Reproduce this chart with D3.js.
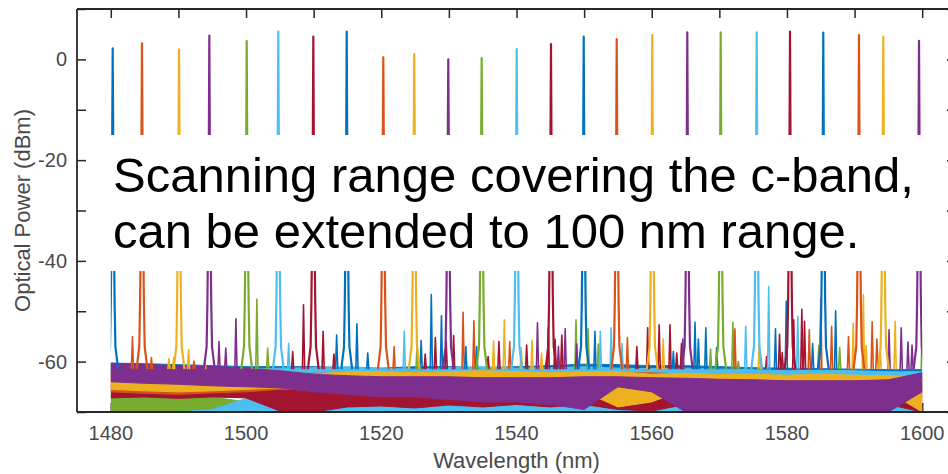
<!DOCTYPE html>
<html>
<head>
<meta charset="utf-8">
<script src="https://cdn.jsdelivr.net/npm/d3@7"></script>
<style>
  body { margin: 0; background: #fff; }
  svg { display: block; font-family: "Liberation Sans", Arial, sans-serif; }
</style>
</head>
<body>
<svg id="chart" width="948" height="474"></svg>
<script>
// MATLAB default colour order (blue, orange, yellow, purple, green, light blue, red)
const traceColors = ["#0072BD", "#D95319", "#EDB120", "#7E2F8E", "#77AC30", "#4DBEEE", "#A2142F"];

// main laser lines: centre wavelength (nm) and peak power (dBm), one per sweep
const peakWl = [1480.28, 1484.61, 1490.09, 1494.57, 1500.1, 1504.77, 1509.95, 1514.89, 1520.3, 1524.88,
                1529.91, 1534.85, 1540.03, 1545.1, 1549.94, 1554.82, 1560.08, 1565.26, 1570.2, 1575.52,
                1580.45, 1585.37, 1590.65, 1594.25, 1599.53];
const peakDbm = [2.2, 3.2, 2.0, 4.7, 3.65, 5.5, 4.5, 5.5, 0.4, 1.07,
                 0.0, 0.27, 2.06, 3.05, 4.5, 4.04, 4.84, 5.37, 5.37, 5.37,
                 5.5, 5.3, 4.84, 4.5, 3.7];

// side spikes above the noise floor: [wavelength, dBm, colour index]
const spikes = [
  [1483.2, -55, 1], [1486.0, -59.2, 1], [1488.6, -59.4, 2], [1489.3, -59.2, 2], [1491.5, -57.6, 2],
  [1492.3, -59.9, 1], [1493.9, -59.4, 2], [1496.0, -56, 3], [1497.0, -57.3, 3], [1498.5, -51.5, 3],
  [1501.6, -47.6, 4], [1503.2, -57.3, 4], [1506.3, -56.4, 5], [1506.9, -58, 6], [1508.5, -48.7, 6],
  [1511.4, -54, 6], [1513.0, -58.5, 6], [1513.4, -54.7, 0], [1516.4, -52.5, 0], [1518.0, -58.3, 0],
  [1521.9, -57, 1], [1523.4, -54, 5], [1525.3, -56.2, 4], [1525.9, -55.8, 0], [1526.5, -58.5, 6],
  [1527.4, -46.7, 0], [1528.0, -55.2, 6], [1528.9, -50.9, 0], [1529.6, -55.9, 6], [1530.7, -54.8, 6],
  [1532.1, -50.2, 1], [1532.5, -57, 0], [1533.7, -51.9, 1], [1534.1, -57, 0], [1535.8, -59, 6],
  [1536.6, -55.9, 2], [1537.4, -56, 6], [1538.2, -51.7, 2], [1539.0, -56, 1], [1540.7, -57.2, 2],
  [1541.5, -56.7, 6], [1542.3, -55.8, 2], [1543.1, -52.3, 3], [1543.7, -58.3, 2], [1544.7, -53.3, 6],
  [1545.7, -55.5, 6], [1546.2, -57, 3], [1546.7, -54.7, 6], [1547.2, -53.5, 3], [1548.8, -51.7, 4],
  [1548.9, -56.5, 3], [1550.6, -53.5, 4], [1551.6, -54, 0], [1552.1, -56.5, 4], [1552.4, -54, 5],
  [1554.0, -53.3, 5], [1555.6, -56.4, 5], [1556.4, -55.2, 1], [1557.8, -57, 6], [1559.4, -53.3, 6],
  [1561.1, -52.7, 6], [1561.7, -55.5, 2], [1562.7, -52.7, 6], [1563.2, -58, 0], [1563.7, -58.3, 6],
  [1564.4, -56.4, 6], [1564.6, -55.5, 3], [1566.4, -52.2, 0], [1566.9, -55.5, 0], [1568.0, -53.3, 0],
  [1568.7, -57.5, 4], [1569.6, -57.2, 0], [1572.0, -52.2, 4], [1572.3, -53.5, 1], [1572.8, -60, 4],
  [1573.9, -53, 5], [1575.9, -56.5, 2], [1577.0, -59, 6], [1577.3, -45.1, 5], [1578.3, -53.5, 0],
  [1578.9, -54.6, 6], [1579.3, -58.2, 6], [1579.9, -48, 0], [1581.0, -51.7, 6], [1581.6, -51, 5],
  [1582.2, -49.6, 6], [1582.6, -52, 6], [1583.3, -53.7, 1], [1583.8, -56.4, 0], [1584.7, -56.8, 4],
  [1585.0, -47.4, 1], [1586.6, -53, 1], [1587.2, -49.9, 0], [1587.8, -57.2, 4], [1589.1, -55, 1],
  [1589.8, -52.4, 2], [1591.3, -46.7, 2], [1591.7, -56.8, 2], [1592.6, -52.1, 1], [1593.3, -55.5, 1],
  [1593.8, -58, 2], [1595.1, -53.7, 3], [1596.0, -52, 2], [1596.9, -53.3, 3], [1597.9, -56.1, 3],
  [1598.5, -56.7, 3], [1600.0, -54.5, 4]
];

// noise floor bands (top / bottom envelope in dBm) sampled on this grid
const floorWl = [1480, 1485, 1490, 1495, 1500, 1505, 1510, 1515, 1520, 1525, 1530, 1535, 1540,
                 1545, 1550, 1555, 1560, 1565, 1570, 1575, 1580, 1585, 1590, 1595, 1600];
const greenTop = [-66.8, -67, -66.8, -67, -68, -68.5, -69, -69, -69, -69, -69, -69, -69,
                  -69, -69, -69, -69, -69, -69, -69, -69, -69, -69, -69, -69];
const greenBot = [-70, -70, -70, -70, -70, -70, -70, -70, -70, -70, -70, -70, -70,
                  -70, -70, -70, -70, -70, -70, -70, -70, -70, -70, -70, -70];
const lightBlueLowTop = [-70, -70, -70, -69.5, -67.3, -68.5, -68, -67.5, -67.3, -67.5, -67.8, -67.5, -68,
                         -68, -68.5, -68.5, -69, -69, -69, -69, -69, -69, -69, -69, -69];
const lightBlueLowBot = greenBot;
const redTop = [-64.2, -64.5, -64.3, -64.8, -65, -64.5, -64.5, -65.5, -66, -66, -66.5, -66.5, -66.5,
                -66.5, -66, -65.5, -65.5, -66, -66, -66, -66, -66, -66, -66, -64];
const redBot = [-67.2, -67, -67.3, -67, -67.2, -69.8, -70, -69, -68.8, -69.2, -68.6, -69, -68.5,
                -69, -68.5, -69.5, -69.8, -68.5, -68.5, -68.5, -68.5, -68.5, -68.5, -68.5, -70];
const blueTop = [-60.3, -60.4, -60.6, -60.8, -61, -61, -61, -61.2, -61.3, -61, -61, -61.2, -61,
                 -60.8, -60.5, -60.6, -60.8, -60.8, -61, -61.2, -61.3, -61.4, -61.5, -61.6, -61.6];
const blueBot = [-62, -62.2, -62.4, -62.6, -62.8, -62.8, -62.8, -63, -63, -62.8, -62.8, -63, -62.8,
                 -62.5, -62.3, -62.3, -62.5, -62.5, -62.8, -63, -63, -63.2, -63.3, -63.3, -63.3];
const lightBlueTop = [-60.8, -61, -61.2, -61.3, -61.5, -61.3, -61.2, -61, -61.3, -61.5, -61.2, -61, -61.3,
                      -61.2, -61, -61.3, -61.4, -61.3, -61.5, -61.6, -61.8, -61.7, -61.8, -62, -62];
const lightBlueBot = [-62.1, -62.3, -62.5, -62.6, -62.8, -62.6, -62.5, -62.3, -62.6, -62.8, -62.5, -62.3, -62.6,
                      -62.5, -62.3, -62.6, -62.7, -62.6, -62.8, -62.9, -63.1, -63, -63.1, -63.3, -63.3];
const orangeTop = [-62, -62.3, -62.3, -62.5, -62.5, -62.5, -62.3, -62.3, -62.2, -62.2, -62.3, -62.3, -62.5,
                   -62.3, -62.2, -62.3, -62.2, -62.5, -62.5, -62.8, -62.8, -63, -63, -63.2, -63];
const orangeBot = [-66, -66.3, -66.5, -66.2, -66, -65.5, -65.5, -65.5, -65.5, -65.5, -65.5, -65.8, -66,
                   -66, -66, -67.5, -66.5, -65.5, -65.5, -65.5, -65.5, -65.5, -65.8, -66, -67];
const yellowTop = [-62.3, -62.5, -62.6, -62.5, -62.8, -62.8, -62.5, -62, -62, -62.2, -62, -61.8, -62,
                   -62.2, -62, -62, -62.5, -62.3, -62.5, -62.5, -62.7, -62.5, -62.7, -62.8, -63];
const yellowBot = [-65.5, -65.8, -66, -65.8, -65.5, -65.2, -65, -64.5, -64.5, -64.8, -65, -65, -65.2,
                   -65.5, -66, -69, -68, -65.5, -65, -65, -65, -65, -65, -66, -70];
const purpleTop = [-60.3, -60.6, -60.8, -61, -61.3, -61.8, -62.5, -62.8, -63, -63, -63, -63.2, -63.2,
                   -63.2, -63, -63, -63.2, -63.3, -63.5, -63.6, -63.8, -63.8, -63.8, -63.6, -62.2];
const purpleBot = [-64, -64.3, -64.5, -64.8, -65, -65.2, -66, -66.5, -67, -67, -67.5, -68, -68,
                   -68.5, -69.5, -65, -66, -70, -70, -70, -70, -70, -70, -70, -66];

// bands in drawing order (later ones sit on top)
const floorBands = [
  {color: 4, top: greenTop, bot: greenBot},
  {color: 5, top: lightBlueLowTop, bot: lightBlueLowBot},
  {color: 6, top: redTop, bot: redBot},
  {color: 0, top: blueTop, bot: blueBot},
  {color: 5, top: lightBlueTop, bot: lightBlueBot},
  {color: 1, top: orangeTop, bot: orangeBot},
  {color: 2, top: yellowTop, bot: yellowBot},
  {color: 3, top: purpleTop, bot: purpleBot}
];

const xTicks = [1480, 1490, 1500, 1510, 1520, 1530, 1540, 1550, 1560, 1570, 1580, 1590, 1600];
const xLabels = [1480, 1500, 1520, 1540, 1560, 1580, 1600];
const yTicks = [-70, -60, -50, -40, -30, -20, -10, 0, 10];
const yLabels = [-60, -40, -20, 0];

const noteLines = ["Scanning range covering the c-band,", "can be extended to 100 nm range."];

// ---------------------------------------------------------------
const width = 948, height = 474;
const margin = {top: 9, left: 77, bottom: 62};
const svg = d3.select("#chart");

const x = d3.scaleLinear().domain([1475, 1605]).range([margin.left, 956]);
const y = d3.scaleLinear().domain([-70, 10]).range([height - margin.bottom, margin.top]);

const axisColor = "#262626";
const labelColor = "#4a4a4a";

// clip to the sweep range
svg.append("defs").append("clipPath").attr("id", "sweep")
  .append("rect")
  .attr("x", x(1480)).attr("y", y(10))
  .attr("width", x(1600) - x(1480)).attr("height", y(-70) - y(10));

// tick marks (inside the box, under the data)
const tickG = svg.append("g").attr("class", "ticks").attr("color", axisColor);
tickG.append("g").attr("transform", `translate(0,${y(-70)})`)
  .call(d3.axisBottom(x).tickValues(xTicks).tickSize(-9).tickFormat(""));
tickG.append("g").attr("transform", `translate(0,${y(10)})`)
  .call(d3.axisTop(x).tickValues(xTicks).tickSize(-9).tickFormat(""));
tickG.append("g").attr("transform", `translate(${x(1475)},0)`)
  .call(d3.axisLeft(y).tickValues(yTicks).tickSize(-9).tickFormat(""));
tickG.append("g").attr("transform", `translate(${x(1605)},0)`)
  .call(d3.axisRight(y).tickValues(yTicks).tickSize(-9).tickFormat(""));
tickG.selectAll(".domain").remove();
tickG.selectAll("line").attr("stroke-width", 1.5);

const plot = svg.append("g").attr("clip-path", "url(#sweep)");

// noise floor
const floorArea = d3.area()
  .x((d, i) => x(floorWl[i]))
  .y0(d => y(d[1]))
  .y1(d => y(d[0]));

floorBands.forEach(b => {
  plot.append("path")
    .attr("d", floorArea(b.top.map((t, i) => [t, b.bot[i]])))
    .attr("fill", traceColors[b.color])
    .attr("stroke", traceColors[b.color])
    .attr("stroke-width", 1);
});

// side spikes
const line = d3.line().x(d => x(d[0])).y(d => y(d[1]));
spikes.forEach(s => {
  plot.append("path")
    .attr("d", line([[s[0] - 0.16, -61.5], [s[0], s[1]], [s[0] + 0.16, -61.5]]))
    .attr("fill", "none")
    .attr("stroke", traceColors[s[2]])
    .attr("stroke-width", 1.6)
    .attr("stroke-linejoin", "round");
});

// main laser lines with their skirts
const skirt = [[-0.8, -61.5], [-0.4, -57], [-0.28, -48], [-0.18, -35], [-0.07, -15]];
peakWl.forEach((wl, i) => {
  const pts = skirt.map(p => [wl + p[0], p[1]])
    .concat([[wl, peakDbm[i]]])
    .concat(skirt.slice().reverse().map(p => [wl - p[0], p[1]]));
  plot.append("path")
    .attr("d", line(pts))
    .attr("fill", "none")
    .attr("stroke", traceColors[i % 7])
    .attr("stroke-width", 2.2)
    .attr("stroke-linejoin", "round");
});

// axes box
svg.append("g").attr("stroke", axisColor).attr("stroke-width", 1.8)
  .selectAll("line")
  .data([
    [x(1475), y(-70), x(1475), y(10)],
    [x(1475), y(10), x(1605), y(10)],
    [x(1475), y(-70), x(1605), y(-70)],
    [x(1605), y(-70), x(1605), y(10)]
  ])
  .join("line")
  .attr("x1", d => d[0]).attr("y1", d => d[1])
  .attr("x2", d => d[2]).attr("y2", d => d[3]);

// tick labels
svg.append("g").selectAll("text")
  .data(xLabels)
  .join("text")
  .attr("x", d => x(d))
  .attr("y", 440)
  .attr("text-anchor", "middle")
  .attr("font-size", 20)
  .attr("fill", labelColor)
  .text(d => d);

svg.append("g").selectAll("text")
  .data(yLabels)
  .join("text")
  .attr("x", 67)
  .attr("y", d => y(d) + 7)
  .attr("text-anchor", "end")
  .attr("font-size", 20)
  .attr("fill", labelColor)
  .text(d => String(d));

// axis titles
svg.append("text")
  .attr("x", (x(1475) + x(1605)) / 2)
  .attr("y", 468)
  .attr("text-anchor", "middle")
  .attr("font-size", 22)
  .attr("fill", labelColor)
  .text("Wavelength (nm)");

svg.append("text")
  .attr("transform", `translate(30,${(y(-70) + y(10)) / 2}) rotate(-90)`)
  .attr("text-anchor", "middle")
  .attr("font-size", 22)
  .attr("fill", labelColor)
  .text("Optical Power (dBm)");

// annotation box
svg.append("rect")
  .attr("x", 92).attr("y", 135)
  .attr("width", 836).attr("height", 136)
  .attr("fill", "#fff");

svg.append("g").selectAll("text")
  .data(noteLines)
  .join("text")
  .attr("x", 113)
  .attr("y", (d, i) => 192 + i * 56)
  .attr("font-size", 49)
  .attr("fill", "#000")
  .text(d => d);
</script>
</body>
</html>
